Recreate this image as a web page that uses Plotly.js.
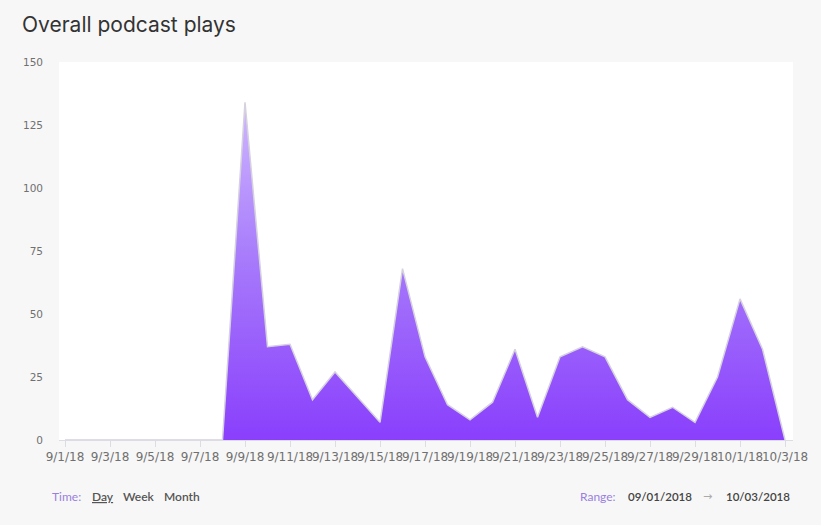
<!DOCTYPE html>
<html>
<head>
<meta charset="utf-8">
<script src="https://cdn.plot.ly/plotly-3.0.1.min.js"></script>
<style>
  html, body { margin: 0; padding: 0; background: #f7f7f7; }
  #chart { width: 821px; height: 525px; }
</style>
</head>
<body>
<div id="chart"></div>
<script>
// daily plays, 9/1/18 - 10/3/18
var days = ['2018-09-01', '2018-09-02', '2018-09-03', '2018-09-04', '2018-09-05', '2018-09-06',
  '2018-09-07', '2018-09-08', '2018-09-09', '2018-09-10', '2018-09-11', '2018-09-12',
  '2018-09-13', '2018-09-14', '2018-09-15', '2018-09-16', '2018-09-17', '2018-09-18',
  '2018-09-19', '2018-09-20', '2018-09-21', '2018-09-22', '2018-09-23', '2018-09-24',
  '2018-09-25', '2018-09-26', '2018-09-27', '2018-09-28', '2018-09-29', '2018-09-30',
  '2018-10-01', '2018-10-02', '2018-10-03'];
var plays = [0, 0, 0, 0, 0, 0,
  0, 0, 134, 37, 38, 16,
  27, 17, 7, 68, 33, 14,
  8, 15, 36, 9, 33, 37,
  33, 16, 9, 13, 7, 25,
  56, 36, 0];
var yTicks = [0, 25, 50, 75, 100, 125, 150];
var timeOptions = ['Day', 'Week', 'Month'];
var rangeFrom = '09/01/2018';
var rangeTo = '10/03/2018';

// plot box in pixels, used to place the footer texts
var L = 59, R = 793, T = 62, B = 440;
function px(x) { return (x - L) / (R - L); }
function py(y) { return (B - y) / (B - T); }

var trace = {
  x: days,
  y: plays,
  type: 'scatter',
  mode: 'lines',
  fill: 'tozeroy',
  fillgradient: {
    type: 'vertical',
    start: 0,
    stop: 140,
    colorscale: [[0, '#8a3ffc'], [0.5, '#a679fb'], [1, '#d3bdff']]
  },
  line: { color: '#d6d1de', width: 1.5 },
  hoverinfo: 'none'
};

var labelFont = { family: 'Lato, sans-serif', size: 12, color: '#555555', weight: 600 };
var purpleFont = { family: 'Lato, sans-serif', size: 12, color: '#9a7fe0' };
var dateFont = { family: 'Lato, sans-serif', size: 11.5, color: '#444444', weight: 600 };

var annotations = [
  { text: 'Time:', x: px(50), y: py(496), font: purpleFont },
  { text: '<u>' + timeOptions[0] + '</u>', x: px(90), y: py(496), font: labelFont },
  { text: timeOptions[1], x: px(121), y: py(496), font: labelFont },
  { text: timeOptions[2], x: px(162), y: py(496), font: labelFont },
  { text: 'Range:', x: px(578), y: py(496), font: purpleFont },
  { text: rangeFrom, x: px(626), y: py(496), font: dateFont },
  { text: '\u2192', x: px(701), y: py(496), font: { family: 'DejaVu Sans', size: 11, color: '#aaaaaa' } },
  { text: rangeTo, x: px(724), y: py(496), font: dateFont }
].map(function (a) {
  a.xref = 'paper'; a.yref = 'paper';
  a.xanchor = 'left'; a.yanchor = 'middle';
  a.showarrow = false;
  return a;
});

var layout = {
  width: 821,
  height: 525,
  paper_bgcolor: '#f7f7f7',
  plot_bgcolor: '#ffffff',
  margin: { l: L, r: 821 - R, t: T, b: 525 - B, pad: 0 },
  showlegend: false,
  title: {
    text: 'Overall podcast plays',
    x: 22 / 821,
    xanchor: 'left',
    y: 1 - 25 / 525,
    yanchor: 'middle',
    font: { family: 'Inter, sans-serif', size: 21, color: '#333333' }
  },
  xaxis: {
    type: 'date',
    range: ['2018-08-31 17:36', '2018-10-03 08:30'],
    tick0: '2018-09-01',
    dtick: 2 * 86400000,
    tickformat: '%-m/%-d/%y',
    tickangle: 0,
    ticks: 'outside',
    ticklen: 6,
    tickcolor: '#dcdce4',
    showgrid: false,
    zeroline: false,
    showline: true,
    linecolor: '#dcdce4',
    linewidth: 1,
    tickfont: { family: 'DejaVu Sans, sans-serif', size: 12, color: '#707070' }
  },
  yaxis: {
    range: [0, 150],
    tickvals: yTicks,
    ticks: '',
    showgrid: false,
    zeroline: false,
    showline: false,
    ticklabelstandoff: 15,
    tickfont: { family: 'DejaVu Sans, sans-serif', size: 10.5, color: '#707070' }
  },
  annotations: annotations
};

var config = { responsive: false, displayModeBar: false, staticPlot: true };

Plotly.newPlot('chart', [trace], layout, config);
</script>
</body>
</html>
